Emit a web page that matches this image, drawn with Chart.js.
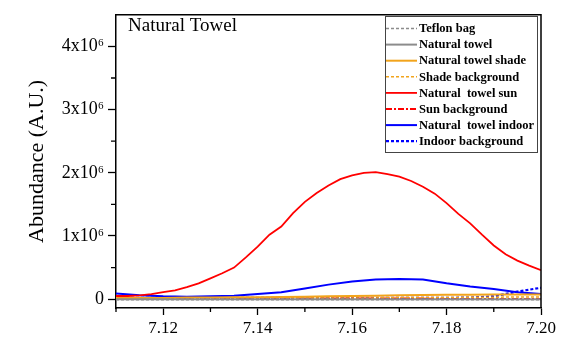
<!DOCTYPE html>
<html>
<head>
<meta charset="utf-8">
<script src="https://cdn.jsdelivr.net/npm/chart.js@4"></script>
<style>
  html, body { margin: 0; padding: 0; background: #fff; }
  #wrap { width: 565px; height: 345px; }
</style>
</head>
<body>
<div id="wrap"><canvas id="chart" width="565" height="345"></canvas></div>
<script>
// retention axis (min), two sampling grids
const massFine = [7.1100, 7.1125, 7.1150, 7.1175, 7.1200, 7.1225, 7.1250, 7.1275, 7.1300, 7.1325,
  7.1350, 7.1375, 7.1400, 7.1425, 7.1450, 7.1475, 7.1500, 7.1525, 7.1550, 7.1575,
  7.1600, 7.1625, 7.1650, 7.1675, 7.1700, 7.1725, 7.1750, 7.1775, 7.1800, 7.1825,
  7.1850, 7.1875, 7.1900, 7.1925, 7.1950, 7.1975, 7.2000];
const massCoarse = [7.110, 7.115, 7.120, 7.125, 7.130, 7.135, 7.140, 7.145, 7.150, 7.155,
  7.160, 7.165, 7.170, 7.175, 7.180, 7.185, 7.190, 7.195, 7.200];

// abundances in units of 1e6
const teflonBag = [-0.01, -0.01, -0.01, -0.01, -0.01, -0.01, -0.01, -0.01, -0.01, -0.01,
  -0.01, -0.01, -0.01, -0.01, -0.01, -0.01, -0.01, -0.01, -0.01];
const naturalTowel = [0.0, 0.0, 0.0, 0.0, 0.0, 0.0, 0.0, 0.0, 0.0, 0.0,
  0.0, 0.0, 0.0, 0.0, 0.0, 0.0, 0.0, 0.0, 0.0];
const towelShade = [0.02, 0.02, 0.02, 0.025, 0.025, 0.03, 0.03, 0.035, 0.04, 0.045,
  0.05, 0.055, 0.06, 0.065, 0.07, 0.07, 0.075, 0.075, 0.075];
const shadeBackground = [0.02, 0.02, 0.02, 0.02, 0.02, 0.02, 0.02, 0.02, 0.02, 0.02,
  0.02, 0.02, 0.025, 0.025, 0.025, 0.03, 0.03, 0.035, 0.035];
const towelSun = [0.05, 0.05, 0.06, 0.08, 0.11, 0.14, 0.19, 0.25, 0.33, 0.41,
  0.50, 0.66, 0.83, 1.02, 1.15, 1.36, 1.54, 1.68, 1.80, 1.90,
  1.96, 2.00, 2.01, 1.98, 1.94, 1.87, 1.78, 1.67, 1.52, 1.35,
  1.20, 1.02, 0.85, 0.71, 0.61, 0.53, 0.46];
const sunBackground = [0.015, 0.015, 0.01, 0.01, 0.01, 0.01, 0.01, 0.01, 0.01, 0.01,
  0.01, 0.01, 0.01, 0.01, 0.005, 0.005, 0.005, 0.005, 0.005];
const towelIndoor = [0.09, 0.06, 0.045, 0.04, 0.045, 0.055, 0.08, 0.11, 0.17, 0.23,
  0.28, 0.31, 0.32, 0.31, 0.25, 0.20, 0.16, 0.11, 0.08];
const indoorBackground = [0.02, 0.02, 0.02, 0.02, 0.02, 0.02, 0.02, 0.02, 0.02, 0.02,
  0.02, 0.02, 0.02, 0.02, 0.02, 0.025, 0.045, 0.12, 0.18];

const xTickValues = [7.12, 7.14, 7.16, 7.18, 7.20];
const xTickLabels = ['7.12', '7.14', '7.16', '7.18', '7.20'];
const xMinorTicks = [7.11, 7.13, 7.15, 7.17, 7.19];
const yTickValues = [0, 1e6, 2e6, 3e6, 4e6];
const yTickLabels = ['0', '1x10⁶', '2x10⁶', '3x10⁶', '4x10⁶'];
const yMinorTicks = [0.5e6, 1.5e6, 2.5e6, 3.5e6];

const SERIF = '"Liberation Serif", "Times New Roman", serif';

const pairUp = (xs, ys) => xs.map((x, i) => ({ x: x, y: ys[i] * 1e6 }));

const series = [
  { label: 'Teflon bag', xs: massCoarse, ys: teflonBag, color: '#8c8c8c', width: 1.3, dash: [3, 2] },
  { label: 'Natural towel', xs: massCoarse, ys: naturalTowel, color: '#8c8c8c', width: 2, dash: [] },
  { label: 'Natural towel shade', xs: massCoarse, ys: towelShade, color: '#f2a41c', width: 2, dash: [] },
  { label: 'Shade background', xs: massCoarse, ys: shadeBackground, color: '#f2a41c', width: 1.5, dash: [3, 2] },
  { label: 'Natural  towel sun', xs: massFine, ys: towelSun, color: '#ff0000', width: 1.8, dash: [] },
  { label: 'Sun background', xs: massCoarse, ys: sunBackground, color: '#ff0000', width: 1.8, dash: [6, 2, 2, 2] },
  { label: 'Natural  towel indoor', xs: massCoarse, ys: towelIndoor, color: '#0000ff', width: 2, dash: [] },
  { label: 'Indoor background', xs: massCoarse, ys: indoorBackground, color: '#0000ff', width: 2.2, dash: [3, 2] }
];

// frame, minor ticks, panel title and the boxed legend
const decorations = {
  id: 'decorations',
  afterDraw(chart) {
    const { ctx, chartArea: a, scales } = chart;
    ctx.save();
    ctx.strokeStyle = '#000';
    ctx.lineWidth = 1.5;
    ctx.beginPath();
    ctx.moveTo(a.left, a.top);
    ctx.lineTo(a.right, a.top);
    ctx.lineTo(a.right, a.bottom);
    ctx.stroke();

    ctx.lineWidth = 1.3;
    ctx.beginPath();
    xMinorTicks.forEach(v => {
      const px = scales.x.getPixelForValue(v);
      ctx.moveTo(px, a.bottom);
      ctx.lineTo(px, a.bottom + 4);
    });
    yMinorTicks.forEach(v => {
      const py = scales.y.getPixelForValue(v);
      ctx.moveTo(a.left, py);
      ctx.lineTo(a.left - 5, py);
    });
    ctx.stroke();

    ctx.fillStyle = '#000';
    ctx.font = '19px ' + SERIF;
    ctx.textBaseline = 'middle';
    ctx.textAlign = 'left';
    ctx.fillText('Natural Towel', a.left + 12, 26);

    // legend box
    const lx = 385, ly = 16, lw = 152, lh = 136;
    ctx.fillStyle = '#fff';
    ctx.fillRect(lx, ly, lw, lh);
    ctx.strokeStyle = '#444';
    ctx.lineWidth = 1;
    ctx.strokeRect(lx + 0.5, ly + 0.5, lw, lh);
    ctx.font = 'bold 12.5px ' + SERIF;
    chart.data.datasets.forEach((ds, i) => {
      const y = 28.5 + i * 16.1;
      ctx.strokeStyle = ds.borderColor;
      ctx.lineWidth = ds.borderWidth;
      ctx.setLineDash(ds.borderDash || []);
      ctx.beginPath();
      ctx.moveTo(lx + 1, y);
      ctx.lineTo(lx + 32, y);
      ctx.stroke();
      ctx.setLineDash([]);
      ctx.fillStyle = '#000';
      ctx.fillText(ds.label, lx + 34, y + 0.5);
    });
    ctx.restore();
  }
};

new Chart(document.getElementById('chart'), {
  type: 'line',
  data: {
    datasets: series.map(s => ({
      label: s.label,
      data: pairUp(s.xs, s.ys),
      borderColor: s.color,
      backgroundColor: s.color,
      borderWidth: s.width,
      borderDash: s.dash,
      pointRadius: 0,
      tension: 0,
      fill: false
    }))
  },
  options: {
    responsive: false,
    animation: false,
    devicePixelRatio: 1,
    layout: { padding: { left: 0, right: 24, top: 10, bottom: 0 } },
    plugins: {
      legend: { display: false },
      tooltip: { enabled: false }
    },
    scales: {
      x: {
        type: 'linear',
        min: 7.11,
        max: 7.20,
        afterBuildTicks: scale => { scale.ticks = xTickValues.map(v => ({ value: v })); },
        afterFit: scale => { scale.height = 37; },
        border: { display: true, color: '#000', width: 1.5 },
        grid: { drawOnChartArea: false, drawTicks: true, tickLength: 7, tickColor: '#000', tickWidth: 1.3 },
        ticks: {
          autoSkip: false,
          maxRotation: 0,
          padding: 3,
          color: '#000',
          font: { family: SERIF, size: 17 },
          callback: (value, index) => xTickLabels[index]
        }
      },
      y: {
        type: 'linear',
        min: -0.14e6,
        max: 4.5e6,
        afterBuildTicks: scale => { scale.ticks = yTickValues.map(v => ({ value: v })); },
        afterFit: scale => { scale.width = 116; },
        border: { display: true, color: '#000', width: 1.5 },
        grid: { drawOnChartArea: false, drawTicks: true, tickLength: 8, tickColor: '#000', tickWidth: 1.3 },
        title: {
          display: true,
          text: 'Abundance (A.U.)',
          color: '#000',
          font: { family: SERIF, size: 22 },
          padding: { top: 24, bottom: 0 }
        },
        ticks: {
          autoSkip: false,
          padding: 4,
          color: '#000',
          font: { family: SERIF, size: 18 },
          callback: (value, index) => yTickLabels[index]
        }
      }
    }
  },
  plugins: [decorations]
});
</script>
</body>
</html>
